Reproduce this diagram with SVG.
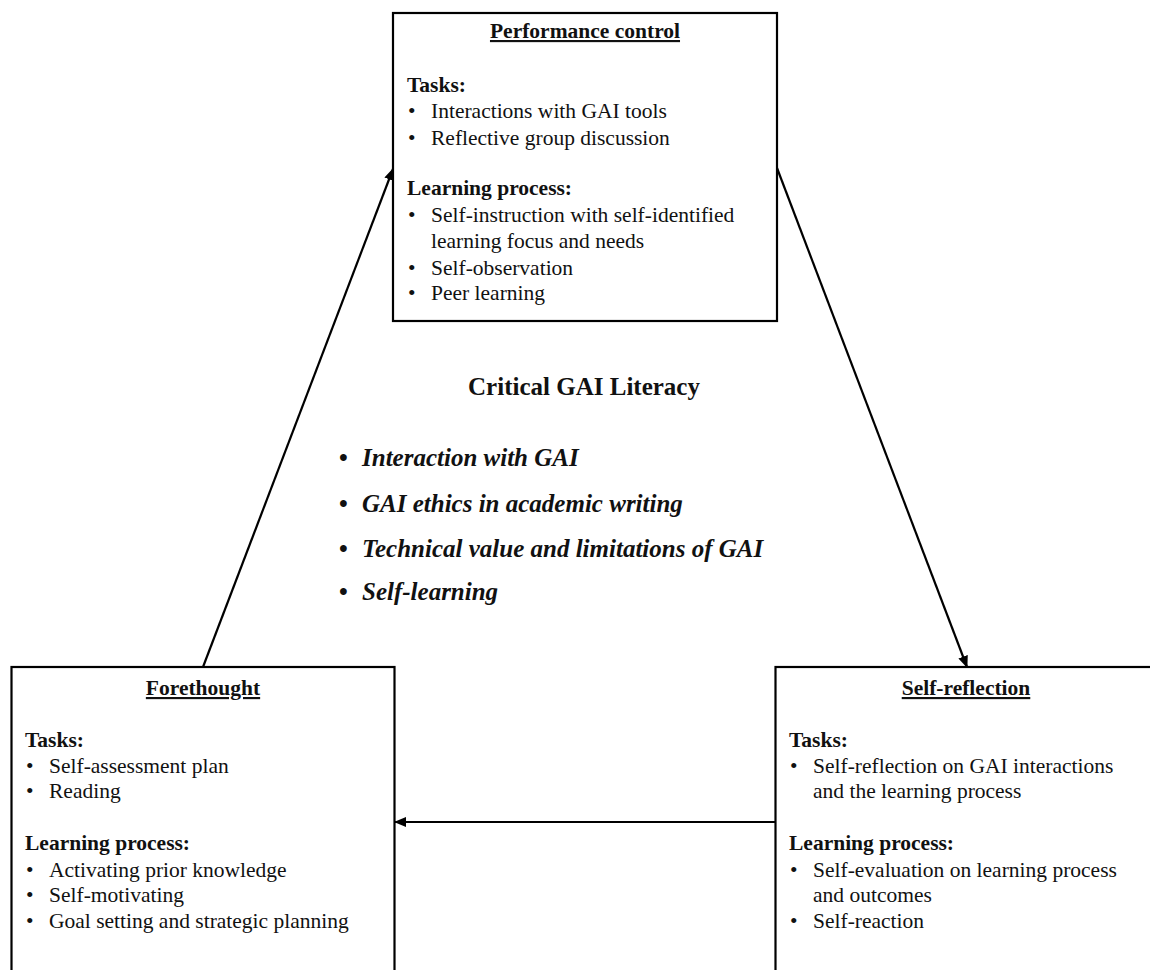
<svg xmlns="http://www.w3.org/2000/svg" width="1150" height="970" viewBox="0 0 1150 970">
<defs>
<marker id="ah" viewBox="0 0 12 10" refX="11" refY="5" markerWidth="12" markerHeight="10" markerUnits="userSpaceOnUse" orient="auto">
<path d="M0,0 L12,5 L0,10 Z" fill="#000"/>
</marker>
<style>
.box{fill:#fff;stroke:#000;stroke-width:2.2}
.t{font-family:"Liberation Serif","Times New Roman",serif;font-size:21.5px;fill:#111}
.b{font-weight:bold}
.ttl{font-weight:bold;text-anchor:middle;text-decoration:underline}
.c{font-family:"Liberation Serif","Times New Roman",serif;font-size:25px;fill:#111;font-weight:bold}
.ci{font-style:italic}
.conn{stroke:#000;stroke-width:2.2;fill:none;marker-end:url(#ah)}
</style>
</defs>
<rect width="1150" height="970" fill="#fff"/>
<g id="connectors">
<line class="conn" x1="203" y1="667" x2="393" y2="169"/>
<line class="conn" x1="777" y1="168" x2="967" y2="667"/>
<line class="conn" x1="775" y1="822" x2="395" y2="822"/>
</g>
<g id="performance-control">
<rect class="box" x="393" y="13" width="384" height="308"/>
<text class="t ttl" x="585" y="38">Performance control</text>
<text class="t b" x="407" y="92">Tasks:</text>
<text class="t" x="408" y="118">•</text><text class="t" x="431" y="118">Interactions with GAI tools</text>
<text class="t" x="408" y="145">•</text><text class="t" x="431" y="145">Reflective group discussion</text>
<text class="t b" x="407" y="195">Learning process:</text>
<text class="t" x="408" y="222">•</text><text class="t" x="431" y="222">Self-instruction with self-identified</text>
<text class="t" x="431" y="248">learning focus and needs</text>
<text class="t" x="408" y="275">•</text><text class="t" x="431" y="275">Self-observation</text>
<text class="t" x="408" y="300">•</text><text class="t" x="431" y="300">Peer learning</text>
</g>
<g id="forethought">
<rect class="box" x="11.5" y="667" width="383" height="330"/>
<text class="t ttl" x="203" y="695">Forethought</text>
<text class="t b" x="25" y="747">Tasks:</text>
<text class="t" x="26" y="773">•</text><text class="t" x="49" y="773">Self-assessment plan</text>
<text class="t" x="26" y="798">•</text><text class="t" x="49" y="798">Reading</text>
<text class="t b" x="25" y="850">Learning process:</text>
<text class="t" x="26" y="877">•</text><text class="t" x="49" y="877">Activating prior knowledge</text>
<text class="t" x="26" y="902">•</text><text class="t" x="49" y="902">Self-motivating</text>
<text class="t" x="26" y="928">•</text><text class="t" x="49" y="928">Goal setting and strategic planning</text>
</g>
<g id="self-reflection">
<rect class="box" x="775.5" y="667" width="400" height="330"/>
<text class="t ttl" x="966" y="695">Self-reflection</text>
<text class="t b" x="789" y="747">Tasks:</text>
<text class="t" x="790" y="773">•</text><text class="t" x="813" y="773">Self-reflection on GAI interactions</text>
<text class="t" x="813" y="798">and the learning process</text>
<text class="t b" x="789" y="850">Learning process:</text>
<text class="t" x="790" y="877">•</text><text class="t" x="813" y="877">Self-evaluation on learning process</text>
<text class="t" x="813" y="902">and outcomes</text>
<text class="t" x="790" y="928">•</text><text class="t" x="813" y="928">Self-reaction</text>
</g>
<g id="critical-gai-literacy">
<text class="c" x="584" y="395" text-anchor="middle">Critical GAI Literacy</text>
<text class="c" x="339" y="466">•</text><text class="c ci" x="362" y="466">Interaction with GAI</text>
<text class="c" x="339" y="512">•</text><text class="c ci" x="362" y="512">GAI ethics in academic writing</text>
<text class="c" x="339" y="557">•</text><text class="c ci" x="362" y="557">Technical value and limitations of GAI</text>
<text class="c" x="339" y="600">•</text><text class="c ci" x="362" y="600">Self-learning</text>
</g>
</svg>
